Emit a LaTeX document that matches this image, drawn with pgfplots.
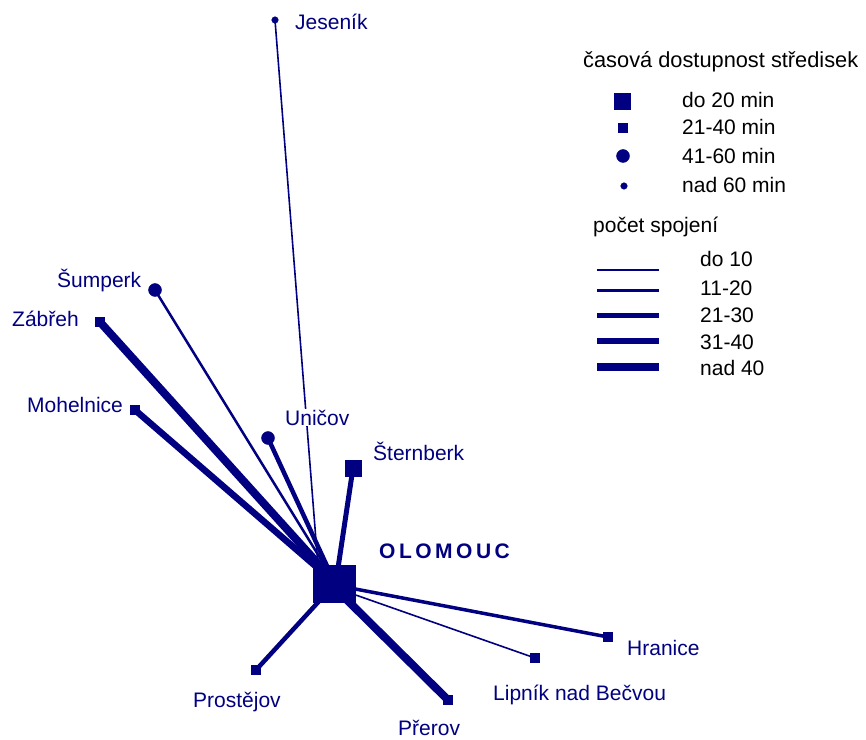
\documentclass[border=0pt]{standalone}
\usepackage{pgfplots}
\pgfplotsset{compat=1.18}
\usepackage{fontspec}
\setmainfont{Liberation Sans}
\definecolor{navy}{RGB}{0,0,128}
\newcommand{\lbl}{\fontsize{21bp}{25bp}\selectfont}
\begin{document}
\begin{tikzpicture}
\begin{axis}[
  scale only axis, width=866bp, height=740bp,
  xmin=0, xmax=866, ymin=0, ymax=740, y dir=reverse,
  axis lines=none, clip=false,
  every axis plot/.append style={navy, line cap=butt},
]
% ---- connections (from Olomouc to centres), widths by number of connections
\addplot[line width=1.6bp] coordinates {(318,566) (275,20)};   % Jesenik, do 10
\addplot[line width=2.5bp] coordinates {(325,566) (155,290)};  % Sumperk
\addplot[line width=8bp]   coordinates {(322,568) (100,322)};  % Zabreh
\addplot[line width=6.5bp] coordinates {(320,570) (135,410)};  % Mohelnice
\addplot[line width=4.5bp] coordinates {(327,566) (268,438)};  % Unicov
\addplot[line width=5bp]   coordinates {(338,568) (353,468)};  % Sternberk
\addplot[line width=3.5bp] coordinates {(350,588) (608,637)};  % Hranice
\addplot[line width=1.6bp] coordinates {(350,593) (535,658)};  % Lipnik
\addplot[line width=8bp]   coordinates {(343,596) (448,700)};  % Prerov
\addplot[line width=4.5bp] coordinates {(322,598) (256,670)};  % Prostejov
% ---- Olomouc
\addplot[fill=navy, draw=navy] coordinates {(313,565) (355,565) (355,602) (313,602)} -- cycle;
% ---- centres by accessibility
\addplot[only marks, mark=square*, mark size=8bp, mark options={fill=navy, draw=navy}] coordinates {(353,468) (622,101)};
\addplot[only marks, mark=square*, mark size=4.5bp, mark options={fill=navy, draw=navy}] coordinates {(100,322) (135,410) (608,637) (535,658) (448,700) (256,670) (623,128)};
\addplot[only marks, mark=*, mark size=6.5bp, mark options={fill=navy, draw=navy}] coordinates {(155,290) (268,438) (623,156)};
\addplot[only marks, mark=*, mark size=3.3bp, mark options={fill=navy, draw=navy}] coordinates {(275,20) (624,186)};
% ---- legend lines
\addplot[line width=1.5bp] coordinates {(597,270) (659,270)};
\addplot[line width=3bp]   coordinates {(597,291) (659,291)};
\addplot[line width=5bp]   coordinates {(597,316) (659,316)};
\addplot[line width=6.5bp] coordinates {(597,341) (659,341)};
\addplot[line width=8.5bp] coordinates {(597,367) (659,367)};
% ---- labels
\begin{scope}[every node/.style={anchor=base west, inner sep=0pt, text=navy, font=\lbl}]
\node at (axis cs:295,30) {Jeseník};
\node at (axis cs:57,288) {Šumperk};
\node at (axis cs:12,327) {Zábřeh};
\node at (axis cs:27,412) {Mohelnice};
\node[fill=white, inner sep=1bp] at (axis cs:284,425) {Uničov};
\node at (axis cs:373,460) {Šternberk};
\node at (axis cs:627,655) {Hranice};
\node at (axis cs:493,700) {Lipník nad Bečvou};
\node at (axis cs:193,707) {Prostějov};
\node at (axis cs:398,735) {Přerov};
\node[font=\lbl\bfseries] at (axis cs:379,558) {O\kern3.5bp L\kern3.5bp O\kern3.5bp M\kern3.5bp O\kern3.5bp U\kern3.5bp C};
\end{scope}
\begin{scope}[every node/.style={anchor=base west, inner sep=0pt, text=black, font=\lbl}]
\node[font=\fontsize{21.8bp}{26bp}\selectfont] at (axis cs:583,68) {časová dostupnost středisek};
\node at (axis cs:682,108) {do 20 min};
\node at (axis cs:682,135) {21-40 min};
\node at (axis cs:682,164) {41-60 min};
\node at (axis cs:682,193) {nad 60 min};
\node at (axis cs:593,233) {počet spojení};
\node at (axis cs:700,267) {do 10};
\node at (axis cs:700,296) {11-20};
\node at (axis cs:700,323) {21-30};
\node at (axis cs:700,350) {31-40};
\node at (axis cs:700,376) {nad 40};
\end{scope}
\end{axis}
\pgfresetboundingbox
\path (current axis.south west) rectangle (current axis.north east);
\end{tikzpicture}
\end{document}
